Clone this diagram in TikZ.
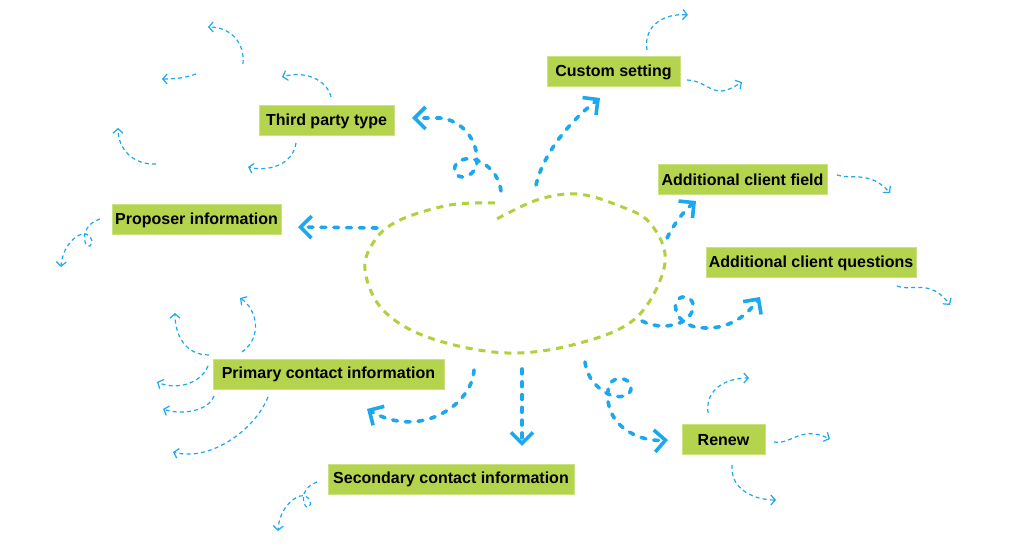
\documentclass[tikz,border=0pt]{standalone}
\usepackage{fontspec}
\setmainfont{Liberation Sans}
\usetikzlibrary{arrows.meta}
\definecolor{boxgreen}{HTML}{B5D44E}
\definecolor{cloudgreen}{HTML}{AFD13A}
\definecolor{arrowblue}{HTML}{1AA9F0}

\begin{document}
\begin{tikzpicture}[x=0.5pt,y=-0.5pt,
	box/.style={fill=boxgreen,draw=boxgreen!70!white,line width=0.5pt,minimum height=15pt,inner sep=0pt,font=\fontsize{8}{9.6}\selectfont\bfseries},
	cloudline/.style={draw=cloudgreen,line width=1.5pt,dash pattern=on 3.5pt off 3pt},
	link/.style={draw=arrowblue,line width=1.8pt,line cap=round,dash pattern=on 2.4pt off 4pt,-{Straight Barb[length=5.5pt,width=11pt]}},
	wisp/.style={draw=arrowblue,line width=0.6pt,dash pattern=on 2pt off 1.6pt,-{Straight Barb[length=2.2pt,width=5pt]}}]
		\useasboundingbox (0,0) rectangle (1024,560);
		\fill[white] (0,0) rectangle (1024,560);
		\draw[cloudline] plot[smooth,tension=0.6] coordinates {(495,203) (450,205) (400,220) (375,240) (365,270) (383,310) (430,338) (507,353) (580,343) (637,317) (665,263) (650,223) (617,205) (577,194) (537,200) (493,221)};
		\node[box,minimum width=67.5pt] (third) at (326.5,121) {Third party type};
		\node[box,minimum width=84.5pt] (proposer) at (196.5,220) {Proposer information};
		\node[box,minimum width=66.5pt] (custom) at (613.5,72) {Custom setting};
		\node[box,minimum width=84.5pt] (field) at (742.5,179.5) {Additional client field};
		\node[box,minimum width=105pt] (questions) at (811,263) {Additional client questions};
		\node[box,minimum width=115.5pt] (primary) at (328.5,374.5) {Primary contact information};
		\node[box,minimum width=123pt] (secondary) at (451,479.5) {Secondary contact information};
		\node[box,minimum width=41.5pt] (renew) at (723.5,440) {Renew};
		\coordinate (third-from) at (501,191);
		\coordinate (third-to) at (412,118);
		\coordinate (custom-from) at (536,185);
		\coordinate (custom-to) at (600,98);
		\coordinate (field-from) at (667,238);
		\coordinate (field-to) at (696,201);
		\coordinate (proposer-from) at (377,228);
		\coordinate (proposer-to) at (298,227);
		\coordinate (questions-from) at (642,321);
		\coordinate (questions-to) at (760,297);
		\coordinate (renew-from) at (585,362);
		\coordinate (renew-to) at (668,440);
		\coordinate (secondary-from) at (522,369);
		\coordinate (secondary-to) at (522,446);
		\coordinate (primary-from) at (474,370);
		\coordinate (primary-to) at (367,409);
		\draw[link] (third-from) .. controls (499,175) and (488,164) .. (476,160) .. controls (462,155) and (450,165) .. (456,174) .. controls (462,181) and (476,175) .. (477,162) .. controls (478,140) and (462,120) .. (440,118) -- (third-to);
		\draw[link] (custom-from) .. controls (542,158) and (565,125) .. (custom-to);
		\draw[link] (field-from) .. controls (675,222) and (685,210) .. (field-to);
		\draw[link] (proposer-from) -- (proposer-to);
		\draw[link] (questions-from) .. controls (655,328) and (672,327) .. (682,322) .. controls (692,317) and (697,305) .. (690,299) .. controls (683,293) and (673,300) .. (676,310) .. controls (678,318) and (684,324) .. (695,327) .. controls (725,332) and (745,318) .. (questions-to);
		\draw[link] (renew-from) .. controls (587,378) and (597,388) .. (608,394) .. controls (618,399) and (632,397) .. (631,387) .. controls (630,377) and (614,376) .. (610,384) .. controls (607,390) and (607,398) .. (609,406) .. controls (614,428) and (640,442) .. (renew-to);
		\draw[link] (secondary-from) -- (secondary-to);
		\draw[link] (primary-from) .. controls (472,405) and (420,440) .. (primary-to);
		\draw[wisp] (243,64) .. controls (245,42) and (230,27) .. (208,27);
		\draw[wisp] (196,74) .. controls (185,78) and (175,79) .. (162,79);
		\draw[wisp] (331,97) .. controls (327,80) and (305,70) .. (282,77);
		\draw[wisp] (156,164) .. controls (132,165) and (118,148) .. (118,128);
		\draw[wisp] (296,143) .. controls (293,165) and (268,172) .. (248,167);
		\draw[wisp] (100,219) .. controls (93,221) and (87,226) .. (85,233) .. controls (83,240) and (86,248) .. (90,246) .. controls (95,243) and (90,232) .. (82,234) .. controls (72,237) and (62,250) .. (61,267);
		\draw[wisp] (647,50) .. controls (643,25) and (665,13) .. (688,15);
		\draw[wisp] (687,80) .. controls (702,80) and (710,92) .. (722,91) .. controls (730,90) and (737,85) .. (742,82);
		\draw[wisp] (837,175) .. controls (850,180) and (870,170) .. (890,193);
		\draw[wisp] (897,286) .. controls (912,292) and (930,278) .. (950,305);
		\draw[wisp] (708,413) .. controls (705,390) and (725,378) .. (749,378);
		\draw[wisp] (774,442) .. controls (792,445) and (800,425) .. (830,439);
		\draw[wisp] (732,465) .. controls (730,490) and (755,500) .. (776,500);
		\draw[wisp] (209,355) .. controls (185,355) and (175,335) .. (175,313);
		\draw[wisp] (242,352) .. controls (262,338) and (258,310) .. (240,298);
		\draw[wisp] (208,366) .. controls (200,385) and (175,390) .. (157,382);
		\draw[wisp] (214,396) .. controls (208,412) and (180,415) .. (163,409);
		\draw[wisp] (268,397) .. controls (255,430) and (210,462) .. (173,452);
		\draw[wisp] (317,482) .. controls (311,484) and (306,488) .. (304,494) .. controls (302,501) and (305,509) .. (309,507) .. controls (313,504) and (309,494) .. (300,496) .. controls (290,499) and (279,512) .. (278,531);
\end{tikzpicture}
\end{document}
